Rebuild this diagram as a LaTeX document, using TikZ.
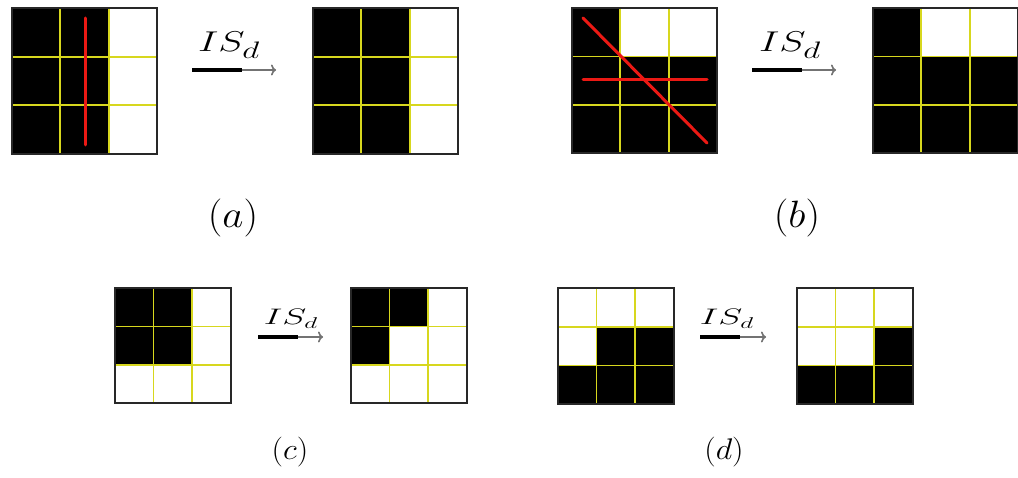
\documentclass[tikz,border=0pt]{standalone}
\usetikzlibrary{arrows.meta}
\definecolor{gridyel}{RGB}{215,215,30}
\definecolor{framecol}{RGB}{40,40,40}
\definecolor{redline}{RGB}{235,25,20}
\definecolor{arrowgray}{RGB}{115,115,115}
\tikzset{
  gridline/.style={gridyel, line width=1.8pt},
  frameline/.style={framecol, line width=2pt},
  redstroke/.style={redline, line width=3pt, line cap=round},
  thickpart/.style={black, line width=3.4pt},
  thinpart/.style={arrowgray, line width=1.6pt, -{To[length=5pt,width=11pt]}},
  biglab/.style={font=\Huge},
  smalllab/.style={font=\LARGE},
  caplab/.style={font=\Huge},
  capsmall/.style={font=\Huge},
}
% #1 x0, #2 y0, #3 cell width, #4 cell height, #5 black cells col/row
\newcommand\drawcellgrid[5]{%
  \foreach \cc/\rr in {#5} {\fill[black] ({#1+\cc*#3},{#2+\rr*#4}) rectangle ++(#3,#4);}
  \foreach \ii in {1,2} {
    \draw[gridline] ({#1+\ii*#3},#2) -- ++(0,{3*#4});
    \draw[gridline] (#1,{#2+\ii*#4}) -- ++({3*#3},0);
  }
  \draw[frameline] (#1,#2) rectangle ++({3*#3},{3*#4});
}
\begin{document}
\begin{tikzpicture}[x=1pt,y=-1pt]
\useasboundingbox (0,0) rectangle (1018,478);
\fill[white] (0,0) rectangle (1018,478);

% (a)
\drawcellgrid{12}{8}{48.3}{48.7}{0/0,1/0,0/1,1/1,0/2,1/2}
\draw[redstroke] (85,18) -- (85,145);
\drawcellgrid{313}{8}{48.3}{48.7}{0/0,1/0,0/1,1/1,0/2,1/2}
\coordinate (as) at (192,70);
\coordinate (am) at (242,70);
\coordinate (ae) at (276,70);
\draw[thickpart] (as) -- (am);
\draw[thinpart] (am) -- (ae);
\node[biglab] (la) at (229,45) {\scalebox{1.6}[1.15]{$IS_d$}};
\node[caplab] (ca) at (233,218) {\scalebox{1.65}[1.53]{$(a)$}};

% (b)
\drawcellgrid{572}{8}{48.3}{48.5}{0/0,0/1,1/1,2/1,0/2,1/2,2/2}
\draw[redstroke] (583,18) -- (707,143);
\draw[redstroke] (583,80) -- (707,80);
\drawcellgrid{873}{8}{48.3}{48.5}{0/0,0/1,1/1,2/1,0/2,1/2,2/2}
\coordinate (bs) at (752,70);
\coordinate (bm) at (802,70);
\coordinate (be) at (836,70);
\draw[thickpart] (bs) -- (bm);
\draw[thinpart] (bm) -- (be);
\node[biglab] (lb) at (790,45) {\scalebox{1.6}[1.15]{$IS_d$}};
\node[caplab] (cb) at (797,218) {\scalebox{1.65}[1.53]{$(b)$}};

% (c)
\drawcellgrid{115}{288}{38.5}{38.5}{0/0,1/0,0/1,1/1}
\drawcellgrid{351}{288}{38.5}{38.5}{0/0,1/0,0/1}
\coordinate (cs) at (258,337);
\coordinate (cm) at (298,337);
\coordinate (ce) at (323,337);
\draw[thickpart] (cs) -- (cm);
\draw[thinpart] (cm) -- (ce);
\node[smalllab] (lc) at (291,319) {\scalebox{2.1}[1.3]{$IS_d$}};
\node[capsmall] (cc) at (290,452) {\scalebox{1.3}[1.2]{$(c)$}};

% (d)
\drawcellgrid{558}{288}{38.5}{38.8}{1/1,2/1,0/2,1/2,2/2}
\drawcellgrid{797}{288}{38.5}{38.8}{2/1,0/2,1/2,2/2}
\coordinate (ds) at (700,337);
\coordinate (dm) at (740,337);
\coordinate (de) at (766,337);
\draw[thickpart] (ds) -- (dm);
\draw[thinpart] (dm) -- (de);
\node[smalllab] (ld) at (727,319) {\scalebox{2.1}[1.3]{$IS_d$}};
\node[capsmall] (cd) at (724,452) {\scalebox{1.3}[1.2]{$(d)$}};
\end{tikzpicture}
\end{document}
